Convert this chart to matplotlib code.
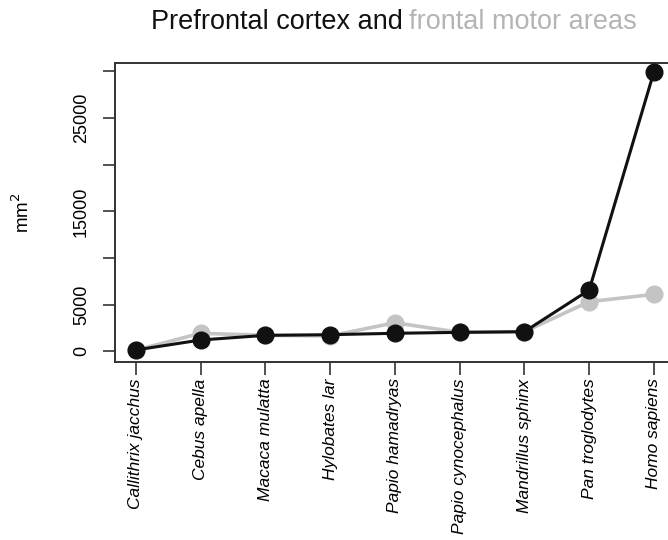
import matplotlib.pyplot as plt
import numpy as np

# species along the x axis
species = ["Callithrix jacchus", "Cebus apella", "Macaca mulatta", "Hylobates lar",
           "Papio hamadryas", "Papio cynocephalus", "Mandrillus sphinx",
           "Pan troglodytes", "Homo sapiens"]

# areas in mm^2
prefrontal = [140, 1210, 1710, 1780, 1930, 2030, 2100, 6570, 29960]
motor = [120, 1930, 1710, 1650, 3060, 2030, 2100, 5320, 6100]

yticks = [0, 5000, 10000, 15000, 20000, 25000, 30000]
ytick_labels = ["0", "5000", "", "15000", "", "25000", ""]

plt.rcParams['font.family'] = ['Liberation Sans', 'DejaVu Sans']

fig = plt.figure(figsize=(6.68, 5.4), dpi=100)
W, H = 668.0, 540.0
ax = fig.add_axes([115 / W, 1 - 361.7 / H, (674.7 - 115) / W, (361.7 - 63.3) / H])

x = np.arange(1, len(species) + 1)
ax.plot(x, motor, color="#c4c4c4", lw=2.6, marker="o", ms=12, mec="#c4c4c4", zorder=2)
ax.plot(x, prefrontal, color="#111111", lw=2.2, marker="o", ms=12, mec="#111111", zorder=3)

ax.set_xlim(0.68, 9.32)
ax.set_ylim(-1114, 30860)

for s in ax.spines.values():
    s.set_linewidth(1.4)
    s.set_color("#333333")

ax.set_yticks(yticks)
ax.set_yticklabels(ytick_labels, rotation=90, va="center", fontsize=13)
ax.set_xticks(x)
ax.set_xticklabels(species, rotation=90, fontsize=12.5, style="italic")
ax.tick_params(axis="both", length=9, width=1.2, color="#333333", direction="out")
ax.tick_params(axis="y", pad=9)
ax.tick_params(axis="x", pad=3)

ax.set_ylabel("mm$^2$", fontsize=13.5, labelpad=29)

# two-colour title
fig.text(403 / W, 1 - 29 / H, "Prefrontal cortex and", ha="right", va="baseline",
         fontsize=19.5, color="#111111")
fig.text(409 / W, 1 - 29 / H, "frontal motor areas", ha="left", va="baseline",
         fontsize=19.5, color="#b4b4b4")

fig.savefig("out.png", dpi=100)
